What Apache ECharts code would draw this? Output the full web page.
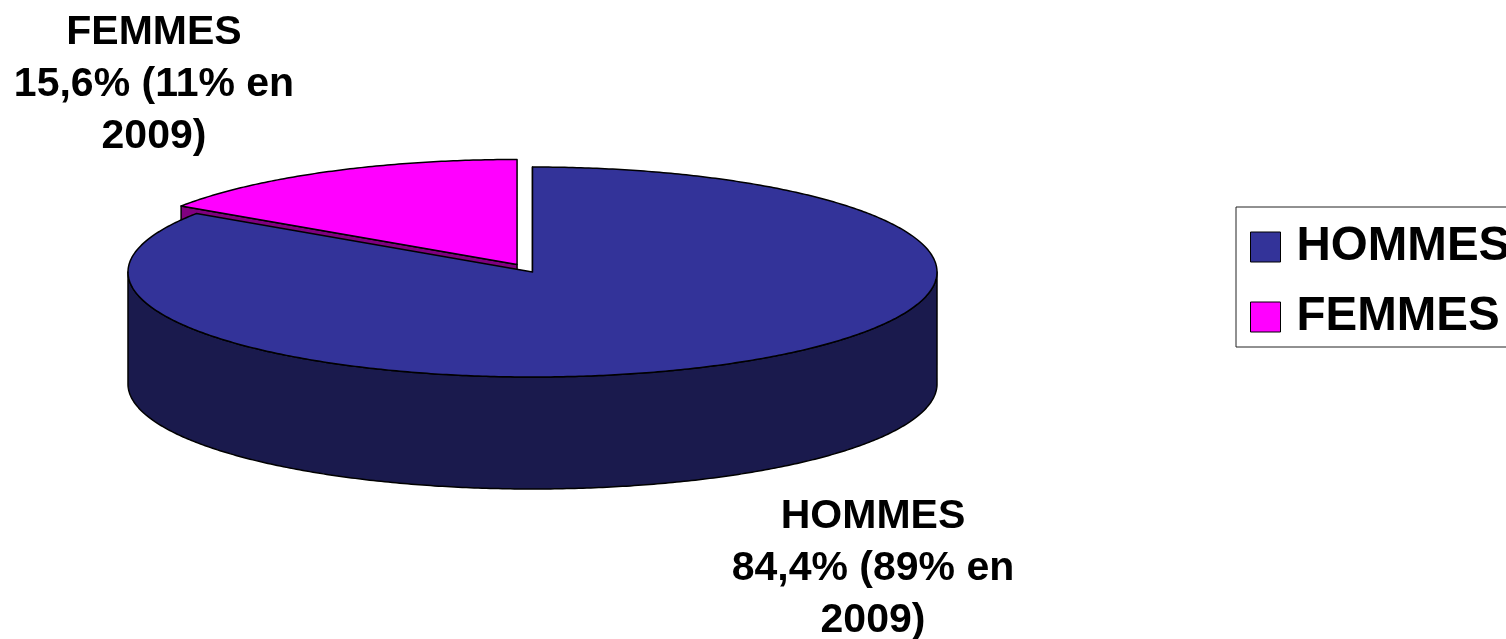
<!DOCTYPE html>
<html lang="fr">
<head>
<meta charset="utf-8">
<title>Répartition hommes / femmes</title>
<script src="https://cdn.jsdelivr.net/npm/echarts@6/dist/echarts.min.js"></script>
<style>
  html, body { margin: 0; padding: 0; background: #fff; overflow: hidden; }
  .clip { width: 1506px; height: 639px; overflow: hidden; }
  #chart { width: 1700px; height: 639px; }
</style>
</head>
<body>
<div class="clip"><div id="chart"></div></div>
<script>
const categories = ['HOMMES', 'FEMMES']
const shares = [84.4, 15.6]
const sliceLabels = ['HOMMES\n84,4% (89% en\n2009)', 'FEMMES\n15,6% (11% en\n2009)']
const topColors = ['#333399', '#ff00ff']
const sideColors = ['#1a1a4d', '#800080']
const explodes = [0, 0.081]
const labelCenters = [[873, 569], [154, 85]]

const pie = { cx: 532.5, cy: 272, rx: 404.5, ry: 105, depth: 112 }
const total = shares.reduce((a, b) => a + b, 0)
const toAngle = v => echarts.number.linearMap(v, [0, total], [0, Math.PI * 2])

// the pie is flattened, so slices are sampled on an ellipse, clockwise from 12 o'clock
const renderSlice = (params, api) => {
  const idx = params.seriesIndex
  const start = toAngle(shares.slice(0, idx).reduce((a, b) => a + b, 0))
  const end = start + toAngle(api.value(0))
  const mid = (start + end) / 2
  const cx = pie.cx + pie.rx * explodes[idx] * Math.sin(mid)
  const cy = pie.cy - pie.ry * explodes[idx] * Math.cos(mid)
  const at = (a, drop = 0) => [cx + pie.rx * Math.sin(a), cy - pie.ry * Math.cos(a) + drop]
  const arc = (from, to, drop = 0) => {
    const pts = []
    const steps = Math.max(2, Math.ceil(Math.abs(to - from) / 0.01))
    for (let i = 0; i <= steps; i++) pts.push(at(from + (to - from) * i / steps, drop))
    return pts
  }
  const edge = { stroke: '#000', lineWidth: 1.5, lineJoin: 'round' }
  const children = []

  // cut face on the start side
  children.push({
    type: 'polygon',
    shape: { points: [[cx, cy], at(start), at(start, pie.depth), [cx, cy + pie.depth]] },
    style: { fill: sideColors[idx], ...edge }
  })

  // outer wall, only the front half of the ellipse shows
  const wallFrom = Math.max(start, Math.PI / 2)
  const wallTo = Math.min(end, Math.PI * 1.5)
  if (wallTo > wallFrom) {
    children.push({
      type: 'polygon',
      shape: { points: arc(wallFrom, wallTo).concat(arc(wallTo, wallFrom, pie.depth)) },
      style: { fill: sideColors[idx], ...edge }
    })
  }

  children.push({
    type: 'polygon',
    shape: { points: [[cx, cy]].concat(arc(start, end)) },
    style: { fill: topColors[idx], ...edge }
  })

  children.push({
    type: 'text',
    style: {
      x: labelCenters[idx][0],
      y: labelCenters[idx][1],
      text: sliceLabels[idx],
      fill: '#000',
      font: 'bold 41px "Liberation Sans", Arial, sans-serif',
      lineHeight: 52,
      align: 'center',
      verticalAlign: 'middle'
    }
  })

  return { type: 'group', children }
}

const chart = echarts.init(document.getElementById('chart'), null, { renderer: 'canvas' })

chart.setOption({
  animation: false,
  legend: {
    data: categories,
    orient: 'vertical',
    left: 1236,
    top: 207,
    padding: [16, 60, 6, 14],
    itemGap: 22,
    itemWidth: 30,
    itemHeight: 30,
    icon: 'rect',
    borderColor: '#222',
    borderWidth: 1,
    itemStyle: { borderColor: '#000', borderWidth: 1 },
    textStyle: {
      color: '#000',
      fontFamily: '"Liberation Sans", Arial, sans-serif',
      fontWeight: 'bold',
      fontSize: 47.5,
      lineHeight: 30,
      padding: [0, 0, 0, 11]
    }
  },
  series: categories.map((name, i) => ({
    name,
    type: 'custom',
    coordinateSystem: 'none',
    z: i === 0 ? 3 : 2,
    itemStyle: { color: topColors[i] },
    data: [shares[i]],
    renderItem: renderSlice,
    silent: true
  }))
})
</script>
</body>
</html>
